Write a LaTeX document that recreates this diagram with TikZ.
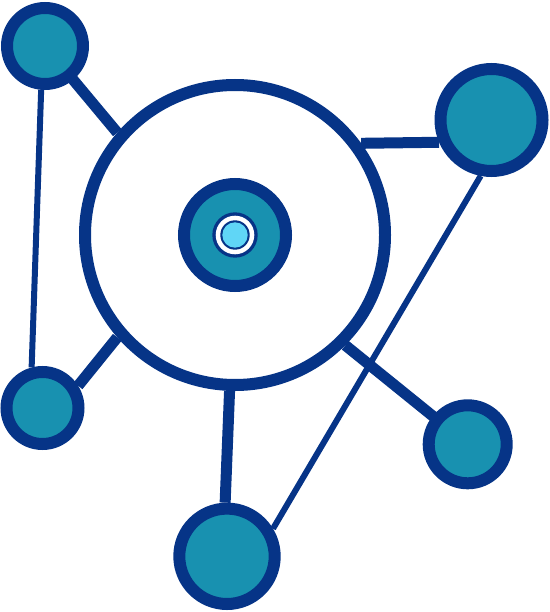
\documentclass[tikz,border=0pt]{standalone}
\usetikzlibrary{backgrounds}
\definecolor{navy}{RGB}{6,52,135}
\definecolor{mteal}{RGB}{24,145,176}
\definecolor{skyb}{RGB}{96,214,246}
\begin{document}
\begin{tikzpicture}[x=1pt,y=-1pt,
  sat/.style={circle,draw=navy,fill=mteal,line width=12pt,inner sep=0pt},
  dot/.style={circle,draw=none,inner sep=0pt},
  link/.style={draw=navy,line width=11pt},
  thinlink/.style={draw=navy,line width=6pt}]
\useasboundingbox (0,0) rectangle (549,612);
% central hub
\node[circle,draw=navy,fill=white,line width=12pt,inner sep=0pt,minimum size=300pt] (big) at (235,235) {};
\node[sat,minimum size=102pt] (hub) at (235,235) {};
\node[dot,fill=navy,minimum size=45.4pt] (core1) at (235,235) {};
\node[dot,fill=white,minimum size=38.6pt] (core2) at (235,235) {};
\node[dot,fill=navy,minimum size=29.4pt] (core3) at (235,235) {};
\node[dot,fill=skyb,minimum size=25.4pt] (core4) at (235,235) {};
% satellites
\node[sat,minimum size=76pt] (tl) at (45,46) {};
\node[sat,minimum size=102pt] (tr) at (491.5,120) {};
\node[sat,minimum size=72pt] (lft) at (42.5,408) {};
\node[sat,minimum size=78pt] (rgt) at (467.7,444.3) {};
\node[sat,minimum size=95.4pt] (bot) at (227,556.3) {};
% connectors
\begin{scope}[on background layer]
  \draw[link] (tl.center) -- (big.139.6);
  \draw[thinlink] (tl.-95) -- (lft.105);
  \draw[link] (big.36) -- (tr.203);
  \draw[thinlink] (tr.259) -- (bot.31);
  \draw[link] (lft.32) -- (big.221);
  \draw[link] (big.-45) -- (rgt.center);
  \draw[link] (big.-92) -- (bot.92.5);
\end{scope}
\end{tikzpicture}
\end{document}
